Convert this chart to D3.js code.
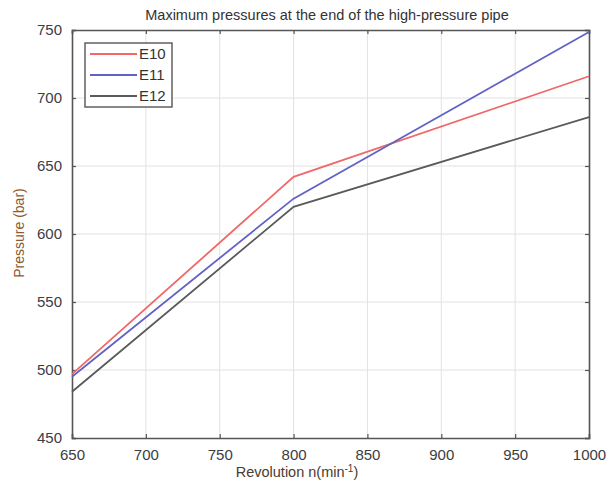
<!DOCTYPE html>
<html>
<head>
<meta charset="utf-8">
<script src="https://cdn.jsdelivr.net/npm/d3@7"></script>
<style>
  body { margin: 0; background: #fff; }
  text { font-family: "Liberation Sans", Arial, sans-serif; }
</style>
</head>
<body>
<svg id="chart" width="614" height="483"></svg>
<script>
// revolution speeds and pressures per engine
var revolutions = [650, 800, 1000];
var e10 = [497, 642, 716];
var e11 = [495, 626, 748.5];
var e12 = [484, 620, 686];
var seriesNames = ["E10", "E11", "E12"];
var seriesColors = ["#f06868", "#6262c4", "#5a5a5a"];
var xTicks = [650, 700, 750, 800, 850, 900, 950, 1000];
var yTicks = [450, 500, 550, 600, 650, 700, 750];

var svg = d3.select("#chart");
var plotLeft = 72, plotRight = 589, plotTop = 30, plotBottom = 438;

var x = d3.scaleLinear().domain([650, 1000]).range([plotLeft, plotRight]);
var y = d3.scaleLinear().domain([450, 750]).range([plotBottom, plotTop]);

// grid
svg.append("g")
	.selectAll("line")
	.data(xTicks.slice(1, -1))
	.enter()
	.append("line")
	.attr("x1", function(d) { return x(d); })
	.attr("x2", function(d) { return x(d); })
	.attr("y1", plotTop)
	.attr("y2", plotBottom)
	.style("stroke", "#e2e2e2");
svg.append("g")
	.selectAll("line")
	.data(yTicks.slice(1, -1))
	.enter()
	.append("line")
	.attr("x1", plotLeft)
	.attr("x2", plotRight)
	.attr("y1", function(d) { return y(d); })
	.attr("y2", function(d) { return y(d); })
	.style("stroke", "#e2e2e2");

// axes, ticks pointing inward on all four sides
var axisColor = "#555";
var fmt = d3.format("d");
var gb = svg.append("g").attr("transform", "translate(0," + plotBottom + ")")
	.call(d3.axisBottom(x).tickValues(xTicks).tickSize(-4).tickPadding(11).tickFormat(fmt));
var gt = svg.append("g").attr("transform", "translate(0," + plotTop + ")")
	.call(d3.axisTop(x).tickValues(xTicks).tickSize(-4).tickFormat(""));
var gl = svg.append("g").attr("transform", "translate(" + plotLeft + ",0)")
	.call(d3.axisLeft(y).tickValues(yTicks).tickSize(-4).tickPadding(10).tickFormat(fmt));
var gr = svg.append("g").attr("transform", "translate(" + plotRight + ",0)")
	.call(d3.axisRight(y).tickValues(yTicks).tickSize(-4).tickFormat(""));
[gb, gt, gl, gr].forEach(function(g) {
	g.select(".domain").attr("stroke", axisColor).attr("stroke-width", 1.6);
	g.selectAll(".tick line").attr("stroke", axisColor).attr("stroke-width", 1.2);
	g.selectAll(".tick text")
		.attr("fill", "#3c3c44")
		.style("font-size", "15px")
		.style("font-family", "Liberation Sans, Arial, sans-serif");
});

// lines
var line = d3.line()
	.x(function(d, i) { return x(revolutions[i]); })
	.y(function(d) { return y(d); });
svg.append("g")
	.selectAll("path")
	.data([e10, e11, e12])
	.enter()
	.append("path")
	.attr("d", line)
	.attr("fill", "none")
	.attr("stroke", function(d, i) { return seriesColors[i]; })
	.attr("stroke-width", 1.8);

// legend
var legend = svg.append("g");
legend.append("rect")
	.attr("x", 85).attr("y", 43)
	.attr("width", 87).attr("height", 64)
	.attr("fill", "#fff")
	.attr("stroke", "#555")
	.attr("stroke-width", 1.4);
var items = legend.selectAll("g.item")
	.data(seriesNames)
	.enter()
	.append("g")
	.attr("transform", function(d, i) { return "translate(0," + (54 + i * 21) + ")"; });
items.append("line")
	.attr("x1", 90).attr("x2", 137)
	.attr("stroke", function(d, i) { return seriesColors[i]; })
	.attr("stroke-width", 1.8);
items.append("text")
	.attr("x", 139).attr("y", 5)
	.attr("fill", "#333")
	.style("font-size", "15px")
	.text(function(d) { return d; });

// titles
svg.append("text")
	.attr("x", 327).attr("y", 20)
	.attr("text-anchor", "middle")
	.attr("fill", "#333")
	.style("font-size", "14.5px")
	.text("Maximum pressures at the end of the high-pressure pipe");

var xl = svg.append("text")
	.attr("x", 297).attr("y", 477)
	.attr("text-anchor", "middle")
	.attr("fill", "#4a3c30")
	.style("font-size", "14.5px")
	.text("Revolution n(min");
xl.append("tspan").attr("dy", -5).style("font-size", "10px").text("-1");
xl.append("tspan").attr("dy", 5).text(")");

svg.append("text")
	.attr("transform", "translate(24,233) rotate(-90)")
	.attr("text-anchor", "middle")
	.attr("fill", "#8e5a2c")
	.style("font-size", "14px")
	.text("Pressure (bar)");
</script>
</body>
</html>
